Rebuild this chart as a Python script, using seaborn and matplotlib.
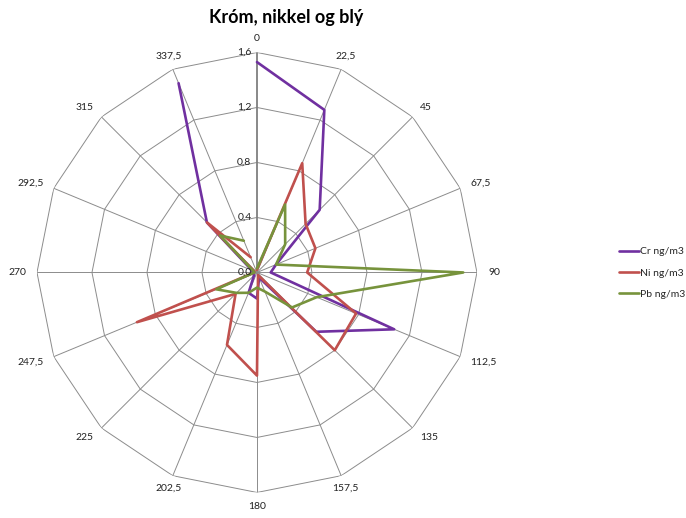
import matplotlib
matplotlib.use("Agg")
import matplotlib.pyplot as plt
import seaborn as sns
import numpy as np

### DATA ###
directions = [0, 22.5, 45, 67.5, 90, 112.5, 135, 157.5, 180,
              202.5, 225, 247.5, 270, 292.5, 315, 337.5]
dir_labels = ['0', '22,5', '45', '67,5', '90', '112,5', '135', '157,5', '180',
              '202,5', '225', '247,5', '270', '292,5', '315', '337,5']
cr = [1.53, 1.28, 0.645, 0.15, 0.10, 1.08, 0.61, 0.04,
      0.19, 0.16, 0.03, 0.03, 0.03, 0.04, 0.515, 1.49]
ni = [0.02, 0.86, 0.50, 0.46, 0.365, 0.78, 0.80, 0.02,
      0.75, 0.57, 0.22, 0.945, 0.02, 0.02, 0.515, 0.12]
pb = [0.03, 0.535, 0.29, 0.15, 1.50, 0.47, 0.36, 0.15,
      0.11, 0.16, 0.21, 0.32, 0.02, 0.03, 0.38, 0.25]
series = {'Cr ng/m3': cr, 'Ni ng/m3': ni, 'Pb ng/m3': pb}
colors = ['#7030A0', '#C0504D', '#77933C']
r_levels = [0.0, 0.4, 0.8, 1.2, 1.6]
r_labels = ['0,0', '0,4', '0,8', '1,2', '1,6']

### STYLE ###
sns.set_theme(style="white")
plt.rcParams['font.family'] = ['Lato', 'DejaVu Sans']

fig = plt.figure(figsize=(6.86, 5.18), dpi=100)
ax = fig.add_axes([0.0539, 0.0493, 0.6414, 0.8494], projection='polar')
ax.set_theta_zero_location('N')
ax.set_theta_direction(-1)
ax.set_ylim(0, 1.6)
ax.grid(False)
ax.spines['polar'].set_visible(False)
ax.set_xticks([])
ax.set_yticks([])
ax.set_facecolor('none')

theta = np.deg2rad(directions)
theta_closed = np.append(theta, theta[0])
rmax = r_levels[-1]

# polygon gridlines + spokes like Excel radar
for lev in r_levels[1:]:
    ax.plot(theta_closed, [lev] * len(theta_closed), color='#8c8c8c', lw=0.7, zorder=1)
for i, t in enumerate(theta):
    if i == 0:
        ax.plot([t, t], [0, rmax], color='#7f7f7f', lw=1.3, zorder=1)
    else:
        ax.plot([t, t], [0, rmax], color='#8c8c8c', lw=0.7, zorder=1)

# series
for (name, vals), c in zip(series.items(), colors):
    sns.lineplot(x=theta_closed, y=np.append(vals, vals[0]), ax=ax, sort=False,
                 color=c, lw=1.9, label=name, zorder=3)

# category labels
for t, lab in zip(theta, dir_labels):
    s, co = np.sin(t), np.cos(t)
    if s > 0.5:
        ha = 'left'
    elif s < -0.5:
        ha = 'right'
    else:
        ha = 'center'
    ax.annotate(lab, xy=(t, rmax), xytext=(8 * s, 10 * co), textcoords='offset points',
                ha=ha, va='center', fontsize=7.5, color='#222222', annotation_clip=False)

# value axis labels
for lev, lab in zip(r_levels, r_labels):
    ax.annotate(lab, xy=(0, lev), xytext=(-4, 0), textcoords='offset points',
                ha='right', va='center', fontsize=7.5, color='#222222', annotation_clip=False)

handles, labels = ax.get_legend_handles_labels()
ax.get_legend().remove()
fig.legend(handles, labels, loc='center left', bbox_to_anchor=(0.902, 0.473),
           frameon=False, fontsize=7.5, handlelength=1.9, handletextpad=0.1,
           labelspacing=1.15, borderpad=0, borderaxespad=0)

fig.text(0.417, 0.967, 'Króm, nikkel og blý', ha='center', va='center',
         fontsize=13, fontweight='bold', color='black')

fig.savefig('out.png', dpi=100)
